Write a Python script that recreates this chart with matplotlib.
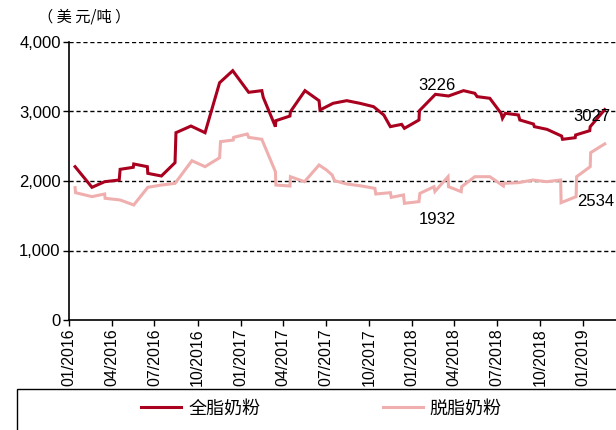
import matplotlib
matplotlib.use("Agg")
import matplotlib.dates as mdates
import matplotlib.pyplot as plt
import pandas as pd
from matplotlib.patches import Rectangle

plt.rcParams["font.family"] = ["Liberation Sans", "Noto Sans CJK SC"]

WMP_DATES = [
    "2016-01-14", "2016-02-19", "2016-03-17", "2016-04-17", "2016-04-19",
    "2016-05-17", "2016-05-18", "2016-06-16", "2016-06-17", "2016-07-16",
    "2016-08-14", "2016-08-16", "2016-09-17", "2016-10-17", "2016-11-17",
    "2016-12-15", "2017-01-18", "2017-02-15", "2017-02-18", "2017-03-16",
    "2017-03-17", "2017-04-16", "2017-04-17", "2017-05-18", "2017-06-17",
    "2017-06-19", "2017-07-17", "2017-08-15", "2017-09-12", "2017-10-11",
    "2017-11-02", "2017-11-16", "2017-12-10", "2017-12-16", "2018-01-16",
    "2018-01-17", "2018-02-20", "2018-03-20", "2018-04-21", "2018-05-15",
    "2018-05-20", "2018-06-16", "2018-07-10", "2018-07-13", "2018-07-19",
    "2018-08-16", "2018-08-19", "2018-09-17", "2018-09-19", "2018-10-16",
    "2018-11-16", "2018-11-18", "2018-12-15", "2018-12-16", "2019-01-15",
    "2019-01-16", "2019-02-16",
]
WMP_PRICE = [
    2206, 1909, 1990, 2014, 2168,
    2197, 2245, 2206, 2110, 2072,
    2264, 2695, 2791, 2695, 3414,
    3587, 3276, 3300, 3204, 2782,
    2868, 2935, 2997, 3300, 3156,
    3022, 3118, 3156, 3118, 3070,
    2950, 2782, 2815, 2758, 2878,
    3012, 3247, 3223, 3300, 3262,
    3214, 3190, 2974, 2902, 2974,
    2950, 2878, 2820, 2782, 2743,
    2647, 2600, 2623, 2662, 2724,
    2782, 3027,
]

SMP_DATES = [
    "2016-01-14", "2016-01-15", "2016-02-19", "2016-03-17", "2016-03-18",
    "2016-04-19", "2016-05-18", "2016-06-17", "2016-07-16", "2016-08-14",
    "2016-09-19", "2016-10-17", "2016-11-17", "2016-11-19", "2016-12-16",
    "2016-12-17", "2017-01-15", "2017-01-18", "2017-02-15", "2017-03-16",
    "2017-03-17", "2017-04-16", "2017-04-17", "2017-05-17", "2017-06-17",
    "2017-07-03", "2017-07-15", "2017-07-20", "2017-08-15", "2017-09-16",
    "2017-10-14", "2017-10-16", "2017-11-16", "2017-11-18", "2017-12-14",
    "2017-12-16", "2018-01-16", "2018-01-18", "2018-02-17", "2018-02-19",
    "2018-03-19", "2018-03-20", "2018-04-16", "2018-04-17", "2018-05-15",
    "2018-06-16", "2018-07-15", "2018-07-16", "2018-08-16", "2018-09-16",
    "2018-10-15", "2018-11-14", "2018-11-15", "2018-12-17", "2018-12-18",
    "2019-01-16", "2019-01-17", "2019-02-16",
]
SMP_PRICE = [
    1904, 1832, 1775, 1813, 1751,
    1727, 1655, 1909, 1942, 1966,
    2292, 2206, 2335, 2566, 2590,
    2628, 2676, 2628, 2600, 2134,
    1942, 1928, 2062, 1990, 2230,
    2158, 2086, 2005, 1957, 1928,
    1894, 1813, 1832, 1765, 1799,
    1679, 1703, 1822, 1918, 1850,
    2062, 1918, 1847, 1918, 2062,
    2062, 1928, 1966, 1976, 2014,
    1990, 2014, 1688, 1775, 2062,
    2206, 2408, 2534,
]

# label text, anchor date, anchor value
LABELS = [
    ("3226", "2018-02-24", 3381),
    ("3027", "2019-01-20", 2935),
    ("1932", "2018-02-24", 1439),
    ("2534", "2019-01-27", 1702),
]

Y_TICKS = [0, 1000, 2000, 3000, 4000]

RED = "#A8001E"
PINK = "#EFAFAE"

fig = plt.figure(figsize=(6.16, 4.30), dpi=100)
ax = fig.add_axes([69 / 616, 110 / 430, (616 - 69) / 616, 278 / 430])

ax.plot(pd.to_datetime(WMP_DATES), WMP_PRICE, color=RED, linewidth=2.2,
        label="全脂奶粉", solid_joinstyle="miter")
ax.plot(pd.to_datetime(SMP_DATES), SMP_PRICE, color=PINK, linewidth=2.2,
        label="脱脂奶粉", solid_joinstyle="miter")

for txt, d, v in LABELS:
    ax.text(pd.Timestamp(d), v, txt, ha="center", va="center", fontsize=12)

ax.set_ylim(0, 4000)
ax.set_yticks(Y_TICKS)
ax.set_yticklabels([f"{v:,}" for v in Y_TICKS], fontsize=12)
for v in Y_TICKS[1:]:
    ax.axhline(v, color="black", linestyle=(0, (3, 2)), linewidth=1.0, zorder=0)

ax.set_xlim(pd.Timestamp("2016-01-01"), pd.Timestamp("2019-03-12"))
ax.xaxis.set_major_locator(mdates.MonthLocator(bymonth=[1, 4, 7, 10]))
ax.xaxis.set_major_formatter(mdates.DateFormatter("%m/%Y"))
for lbl in ax.get_xticklabels():
    lbl.set_rotation(90)
    lbl.set_fontsize(11.5)

for side in ["top", "right"]:
    ax.spines[side].set_visible(False)
ax.spines["left"].set_linewidth(1.2)
ax.spines["bottom"].set_linewidth(1.2)
ax.tick_params(axis="both", direction="out", length=4, width=1.0, pad=2)

fig.text(38 / 616, 1 - 17 / 430, "（ 美 元/吨 ）", fontsize=11, va="center",
         ha="left", family=["Noto Sans CJK SC", "DejaVu Sans"])

fig.patches.append(Rectangle((17 / 616, -0.1), 1.0, 0.1 + (430 - 389) / 430,
                             transform=fig.transFigure, fill=False,
                             edgecolor="black", linewidth=1.0))
fig.legend(loc="center left", bbox_to_anchor=(125 / 616, 21 / 430), ncol=2,
           frameon=False, fontsize=13, handlelength=2.2, handletextpad=0.4,
           columnspacing=6.8)

fig.savefig("out.png", dpi=100)
